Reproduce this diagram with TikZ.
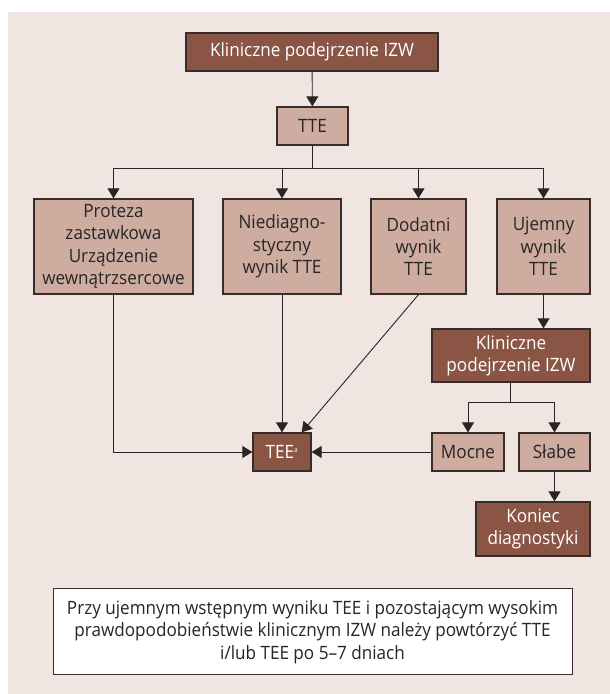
\documentclass[tikz,border=0pt]{standalone}
\usepackage{fontspec}
\setmainfont[FakeStretch=0.93]{Open Sans}
\usetikzlibrary{arrows.meta}
\definecolor{bgpink}{RGB}{240,229,225}
\definecolor{darkbox}{RGB}{139,85,70}
\definecolor{lightbox}{RGB}{207,172,160}
\definecolor{boxline}{RGB}{55,45,45}

\begin{document}
\begin{tikzpicture}[x=1pt,y=1pt,
  font=\fontsize{18.4}{22.3}\selectfont,
  darkstep/.style={draw=boxline,line width=1.3pt,fill=darkbox,text=white,inner sep=0pt,align=center},
  lightstep/.style={draw=boxline,line width=1.3pt,fill=lightbox,text=black!85,inner sep=0pt,align=center},
  arr/.style={line width=0.9pt,draw=black!85,-{Triangle[length=10pt,width=12pt]}},
  conn/.style={line width=0.9pt,draw=black!85}]
\useasboundingbox (0,0) rectangle (610,694);
\fill[bgpink] (8,0) rectangle (610,682);
\node[darkstep,minimum width=252,minimum height=38] (kz1) at (312,642) {Kliniczne podejrzenie IZW};
\node[lightstep,minimum width=71,minimum height=38] (tte) at (312.5,568) {TTE};
\node[lightstep,minimum width=159,minimum height=95] (proteza) at (113.5,447.5) {Proteza\\zastawkowa\\Urządzenie\\wewnątrzsercowe};
\node[lightstep,minimum width=118,minimum height=95] (niediag) at (282,447.5) {Niediagno-\\styczny\\wynik TTE};
\node[lightstep,minimum width=95,minimum height=95] (dodatni) at (418.5,447.5) {Dodatni\\wynik\\TTE};
\node[lightstep,minimum width=93,minimum height=95] (ujemny) at (543.5,447.5) {Ujemny\\wynik\\TTE};
\node[darkstep,minimum width=158,minimum height=53] (kz2) at (511,338.5) {Kliniczne\\podejrzenie IZW};
\node[lightstep,minimum width=72,minimum height=38] (mocne) at (468,242) {Mocne};
\node[lightstep,minimum width=71,minimum height=38] (slabe) at (554.5,242) {Słabe};
\node[darkstep,minimum width=58,minimum height=38] (tee) at (282,242) {TEE\textsuperscript{\fontsize{7}{7}\selectfont a}};
\node[darkstep,minimum width=114,minimum height=54] (koniec) at (533,165) {Koniec\\diagnostyki};
\node[draw=boxline,line width=1pt,fill=white,text=black!85,inner sep=0pt,align=center,
  minimum width=519,minimum height=86] (note) at (312.5,62)
  {Przy ujemnym wstępnym wyniku TEE i pozostającym wysokim\\prawdopodobieństwie klinicznym IZW należy powtórzyć TTE\\i/lub TEE po 5--7 dniach};
\coordinate (br1) at (312.5,526);
\coordinate (br2) at (510,292);
\draw[arr] (kz1) -- (tte);
\draw[conn] (tte.south) -- (br1);
\draw[arr] (br1) -| (proteza.north);
\draw[arr] (br1) -| (niediag.north);
\draw[arr] (br1) -| (dodatni.north);
\draw[arr] (br1) -| (ujemny.north);
\draw[arr] (proteza.south) |- (tee.west);
\draw[arr] (niediag.south) -- (niediag.south |- tee.north);
\draw[arr] (dodatni.south) -- (tee.45);
\draw[arr] (ujemny.south) -- (ujemny.south |- kz2.north);
\draw[conn] (br2 |- kz2.south) -- (br2);
\draw[arr] (br2) -| (mocne.north);
\draw[arr] (br2) -| (slabe.north);
\draw[arr] (mocne.west) -- (tee.east);
\draw[arr] (slabe.south) -- (slabe.south |- koniec.north);
\end{tikzpicture}
\end{document}
